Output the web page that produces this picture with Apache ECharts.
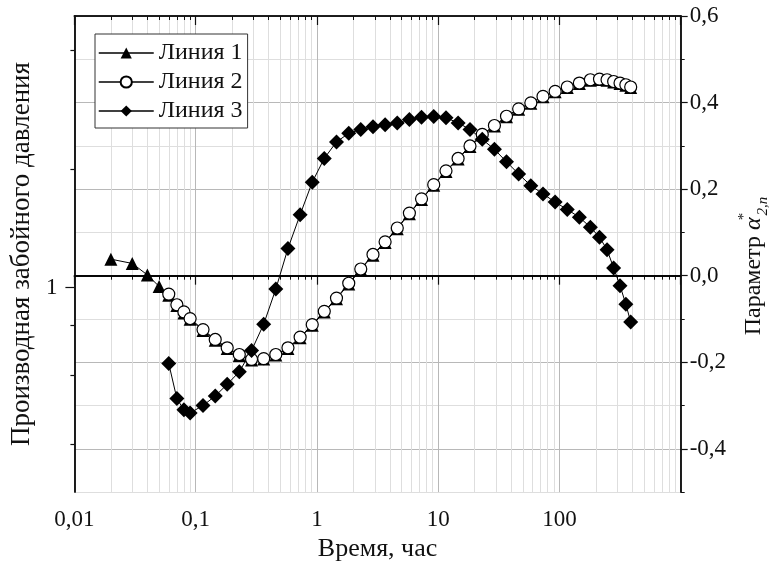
<!DOCTYPE html>
<html><head><meta charset="utf-8">
<script src="https://cdn.jsdelivr.net/npm/echarts@6/dist/echarts.min.js"></script>
<style>html,body{margin:0;padding:0;background:#fff}#c{width:779px;height:567px}</style>
</head><body><div id="c"></div>
<script>
// ---- data ----
const timesLine1Start = [0.02, 0.03, 0.04, 0.05];
const line1Start = [1.180, 1.151, 1.076, 1.006];
const times = [0.06, 0.07, 0.08, 0.09, 0.115, 0.145, 0.182, 0.229, 0.289, 0.364, 0.458, 0.577, 0.727, 0.915,
  1.15, 1.45, 1.83, 2.30, 2.90, 3.65, 4.60, 5.79, 7.29, 9.19, 11.6, 14.6, 18.3, 23.1, 29.1, 36.6, 46.1, 58.1,
  73.2, 92.2, 116, 146, 180, 214, 247, 280, 316, 353, 387];
const line1 = [0.955, 0.900, 0.862, 0.830, 0.778, 0.735, 0.700, 0.672, 0.655, 0.658, 0.674, 0.700, 0.745, 0.802,
  0.866, 0.936, 1.020, 1.110, 1.208, 1.300, 1.410, 1.540, 1.672, 1.818, 1.970, 2.120, 2.280, 2.440, 2.570, 2.712,
  2.834, 2.935, 3.048, 3.140, 3.220, 3.296, 3.360, 3.374, 3.360, 3.326, 3.296, 3.263, 3.220];
const line2 = [0.962, 0.904, 0.867, 0.834, 0.782, 0.738, 0.703, 0.676, 0.657, 0.660, 0.676, 0.703, 0.748, 0.805,
  0.870, 0.940, 1.025, 1.114, 1.213, 1.306, 1.416, 1.545, 1.679, 1.824, 1.978, 2.126, 2.287, 2.447, 2.578, 2.721,
  2.841, 2.942, 3.056, 3.146, 3.228, 3.304, 3.368, 3.381, 3.368, 3.334, 3.304, 3.271, 3.228];
const line3 = [-0.203, -0.284, -0.310, -0.317, -0.300, -0.278, -0.251, -0.222, -0.173, -0.112, -0.031, 0.063, 0.141,
  0.216, 0.271, 0.309, 0.329, 0.338, 0.344, 0.349, 0.353, 0.361, 0.366, 0.368, 0.365, 0.353, 0.338, 0.315, 0.292,
  0.263, 0.235, 0.208, 0.189, 0.170, 0.153, 0.135, 0.112, 0.089, 0.060, 0.018, -0.023, -0.066, -0.107];
const seriesNames = ['Линия 1', 'Линия 2', 'Линия 3'];

// ---- tick values ----
const xMajorTicks = [0.01, 0.1, 1, 10, 100, 1000];
const xTickLabels = [0.01, 0.1, 1, 10, 100];
const xMinorTicks = [0.02, 0.03, 0.04, 0.05, 0.06, 0.07, 0.08, 0.09, 0.2, 0.3, 0.4, 0.5, 0.6, 0.7, 0.8, 0.9,
  2, 3, 4, 5, 6, 7, 8, 9, 20, 30, 40, 50, 60, 70, 80, 90, 200, 300, 400, 500, 600, 700, 800, 900];
const leftMajorTicks = [1];
const leftMinorTicks = [0.4, 0.6, 0.8, 2, 4];
const rightMajorTicks = [-0.4, -0.2, 0, 0.2, 0.4, 0.6];

const FONT = "'Liberation Serif', 'Times New Roman', serif";
const AX = '#111';
const MINOR_GRID = '#dedede';
const MAJOR_GRID = '#b8b8b8';

function pairs(xs, ys) { return xs.map((x, i) => [x, ys[i]]); }
function comma(v) { let s = String(v); return s.replace('.', ','); }

const chart = echarts.init(document.getElementById('c'), null, { renderer: 'canvas' });
chart.setOption({
  animation: false,
  backgroundColor: '#fff',
  grid: { left: 71, right: 92, top: 16, bottom: 72, containLabel: false },
  legend: {
    data: seriesNames, orient: 'vertical', left: 95, top: 34,
    itemWidth: 55, itemHeight: 14, itemGap: 5, padding: [7, 5, 5, 3],
    borderColor: '#333', borderWidth: 1, backgroundColor: '#fff',
    lineStyle: { width: 1.5 },
    textStyle: { fontFamily: FONT, fontSize: 24, color: '#111' }, z: 10
  },
  xAxis: [
    { type: 'log', min: 0.01, max: 1000, position: 'bottom',
      axisLine: { show: true, lineStyle: { color: AX, width: 1.5 } },
      axisTick: { show: true, customValues: xMinorTicks, length: 4, lineStyle: { color: AX, width: 1 } },
      axisLabel: { show: false },
      splitLine: { show: true, lineStyle: { color: MINOR_GRID, width: 1 } } },
    { type: 'log', min: 0.01, max: 1000, position: 'bottom',
      axisLine: { show: true, lineStyle: { color: AX, width: 1.5 } },
      axisTick: { show: true, customValues: xMajorTicks, length: 9, lineStyle: { color: AX, width: 1.2 } },
      axisLabel: { show: true, customValues: xTickLabels, margin: 16, formatter: v => comma(v),
        fontFamily: FONT, fontSize: 23, color: '#111' },
      splitLine: { show: true, lineStyle: { color: MAJOR_GRID, width: 1 } },
      name: 'Время, час', nameLocation: 'middle', nameGap: 40,
      nameTextStyle: { fontFamily: FONT, fontSize: 26, color: '#111' } },
    { type: 'log', min: 0.01, max: 1000, position: 'top',
      axisLine: { show: true, lineStyle: { color: AX, width: 1.5 } },
      axisTick: { show: true, inside: true, customValues: xMinorTicks, length: 4, lineStyle: { color: AX, width: 1 } },
      axisLabel: { show: false }, splitLine: { show: false } },
    { type: 'log', min: 0.01, max: 1000, position: 'top',
      axisLine: { show: true, lineStyle: { color: AX, width: 1.5 } },
      axisTick: { show: true, inside: true, customValues: xMajorTicks, length: 9, lineStyle: { color: AX, width: 1.2 } },
      axisLabel: { show: false }, splitLine: { show: false } }
  ],
  yAxis: [
    { type: 'value', min: -0.5, max: 0.6, interval: 0.1, position: 'right',
      axisLine: { show: true, lineStyle: { color: AX, width: 1.5 } },
      axisTick: { show: true, length: 4, lineStyle: { color: AX, width: 1 } },
      axisLabel: { show: false },
      splitLine: { show: true, lineStyle: { color: MINOR_GRID, width: 1 } } },
    { type: 'value', min: -0.5, max: 0.6, position: 'right',
      axisLine: { show: true, lineStyle: { color: AX, width: 1.5 } },
      axisTick: { show: true, customValues: rightMajorTicks, length: 7, lineStyle: { color: AX, width: 1.2 } },
      axisLabel: { show: true, customValues: rightMajorTicks, margin: 9,
        formatter: v => (Math.abs(v) < 1e-9 ? '0,0' : v.toFixed(1).replace('.', ',')),
        fontFamily: FONT, fontSize: 23, color: '#111' },
      splitLine: { show: true, lineStyle: { color: MAJOR_GRID, width: 1 } },
      name: '{t|Параметр }{a|α}{s|*}{b|2,n}', nameLocation: 'middle', nameGap: 56, nameRotate: 90,
      nameTextStyle: { fontFamily: FONT, fontSize: 24, color: '#111', padding: [0, 24, 0, 0],
        rich: {
          t: { fontFamily: FONT, fontSize: 24, color: '#111', lineHeight: 34 },
          a: { fontFamily: FONT, fontSize: 24, fontStyle: 'italic', color: '#111', lineHeight: 34 },
          s: { fontFamily: FONT, fontSize: 15, color: '#111', verticalAlign: 'top', lineHeight: 34, width: 2 },
          b: { fontFamily: FONT, fontSize: 15, fontStyle: 'italic', color: '#111', verticalAlign: 'bottom', lineHeight: 34 }
        } } },
    { type: 'log', min: 0.3024, max: 4.889, position: 'left',
      axisLine: { show: true, lineStyle: { color: AX, width: 1.5 } },
      axisTick: { show: true, customValues: leftMinorTicks, length: 4, lineStyle: { color: AX, width: 1.2 } },
      axisLabel: { show: false }, splitLine: { show: false } },
    { type: 'log', min: 0.3024, max: 4.889, position: 'left',
      axisLine: { show: true, lineStyle: { color: AX, width: 1.5 } },
      axisTick: { show: true, customValues: leftMajorTicks, length: 9, lineStyle: { color: AX, width: 1.2 } },
      axisLabel: { show: true, customValues: leftMajorTicks, margin: 17, formatter: v => comma(v),
        fontFamily: FONT, fontSize: 23, color: '#111' },
      splitLine: { show: false },
      name: 'Производная забойного давления', nameLocation: 'middle', nameGap: 32, nameRotate: 90,
      nameTextStyle: { fontFamily: FONT, fontSize: 27, color: '#111' } }
  ],
  series: [
    { name: seriesNames[0], type: 'line', xAxisIndex: 1, yAxisIndex: 3,
      data: pairs(timesLine1Start.concat(times), line1Start.concat(line1)),
      symbol: 'triangle', symbolSize: 13,
      itemStyle: { color: '#000' }, lineStyle: { color: '#000', width: 1 } },
    { name: seriesNames[1], type: 'line', xAxisIndex: 1, yAxisIndex: 3,
      data: pairs(times, line2),
      symbol: 'circle', symbolSize: 12,
      itemStyle: { color: '#fff', borderColor: '#000', borderWidth: 1.2 }, lineStyle: { color: '#000', width: 1 } },
    { name: seriesNames[2], type: 'line', xAxisIndex: 1, yAxisIndex: 1,
      data: pairs(times, line3),
      symbol: 'diamond', symbolSize: 15,
      itemStyle: { color: '#000' }, lineStyle: { color: '#000', width: 1 },
      markLine: { silent: true, symbol: ['none', 'none'], label: { show: false },
        lineStyle: { color: '#000', width: 1.5, type: 'solid' }, data: [{ yAxis: 0 }] } }
  ]
});
</script></body></html>
